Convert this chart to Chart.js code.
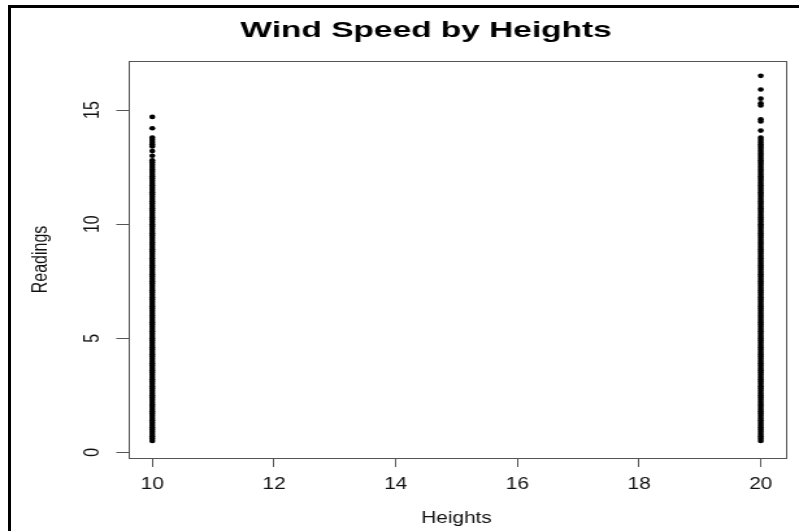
<!DOCTYPE html>
<html>
<head>
<meta charset="utf-8">
<title>Wind Speed by Heights</title>
<script src="https://cdn.jsdelivr.net/npm/chart.js@4.4.1/dist/chart.umd.min.js"></script>
<style>
  html, body { margin: 0; padding: 0; background: #fff; }
  #wrap { position: relative; width: 799px; height: 531px; overflow: hidden; }
  #windChart { position: absolute; left: 0; top: 0; }
  /* cropped screenshot frame: only top and left edges show */
  #frame { position: absolute; left: 8px; top: 5px; right: 0; bottom: 0;
           border-left: 3px solid #000; border-top: 3px solid #000; pointer-events: none; }
</style>
</head>
<body>
<div id="wrap">
  <!-- drawn at 615px wide and stretched to 799px, like the source image -->
  <canvas id="windChart" width="615" height="531" style="width:799px;height:531px"></canvas>
  <div id="frame"></div>
</div>
<script>
const chartTitle = "Wind Speed by Heights";
const xTitle = "Heights";
const yTitle = "Readings";

const heights = [10, 20];
const xTicks = [10, 12, 14, 16, 18, 20];
const yTicks = [0, 5, 10, 15];

// distinct readings seen at 10 m
const readingsAt10 = [
    0.5, 0.6, 0.7, 0.8, 0.9, 1.0, 1.1, 1.2, 1.3, 1.4,
    1.5, 1.6, 1.7, 1.8, 1.9, 2.0, 2.1, 2.2, 2.3, 2.4,
    2.5, 2.6, 2.7, 2.8, 2.9, 3.0, 3.1, 3.2, 3.3, 3.4,
    3.5, 3.6, 3.7, 3.8, 3.9, 4.0, 4.1, 4.2, 4.3, 4.4,
    4.5, 4.6, 4.7, 4.8, 4.9, 5.0, 5.1, 5.2, 5.3, 5.4,
    5.5, 5.6, 5.7, 5.8, 5.9, 6.0, 6.1, 6.2, 6.3, 6.4,
    6.5, 6.6, 6.7, 6.8, 6.9, 7.0, 7.1, 7.2, 7.3, 7.4,
    7.5, 7.6, 7.7, 7.8, 7.9, 8.0, 8.1, 8.2, 8.3, 8.4,
    8.5, 8.6, 8.7, 8.8, 8.9, 9.0, 9.1, 9.2, 9.3, 9.4,
    9.5, 9.6, 9.7, 9.8, 9.9, 10.0, 10.1, 10.2, 10.3, 10.4,
    10.5, 10.6, 10.7, 10.8, 10.9, 11.0, 11.1, 11.2, 11.3, 11.4,
    11.5, 11.6, 11.7, 11.8, 11.9, 12.0, 12.1, 12.2, 12.3, 12.4,
    12.5, 12.6, 12.7, 12.8,
    13.0, 13.2, 13.4, 13.5, 13.6, 13.7, 13.8, 14.2, 14.7
];

// distinct readings seen at 20 m
const readingsAt20 = [
    0.5, 0.6, 0.7, 0.8, 0.9, 1.0, 1.1, 1.2, 1.3, 1.4,
    1.5, 1.6, 1.7, 1.8, 1.9, 2.0, 2.1, 2.2, 2.3, 2.4,
    2.5, 2.6, 2.7, 2.8, 2.9, 3.0, 3.1, 3.2, 3.3, 3.4,
    3.5, 3.6, 3.7, 3.8, 3.9, 4.0, 4.1, 4.2, 4.3, 4.4,
    4.5, 4.6, 4.7, 4.8, 4.9, 5.0, 5.1, 5.2, 5.3, 5.4,
    5.5, 5.6, 5.7, 5.8, 5.9, 6.0, 6.1, 6.2, 6.3, 6.4,
    6.5, 6.6, 6.7, 6.8, 6.9, 7.0, 7.1, 7.2, 7.3, 7.4,
    7.5, 7.6, 7.7, 7.8, 7.9, 8.0, 8.1, 8.2, 8.3, 8.4,
    8.5, 8.6, 8.7, 8.8, 8.9, 9.0, 9.1, 9.2, 9.3, 9.4,
    9.5, 9.6, 9.7, 9.8, 9.9, 10.0, 10.1, 10.2, 10.3, 10.4,
    10.5, 10.6, 10.7, 10.8, 10.9, 11.0, 11.1, 11.2, 11.3, 11.4,
    11.5, 11.6, 11.7, 11.8, 11.9, 12.0, 12.1, 12.2, 12.3, 12.4,
    12.5, 12.6, 12.7, 12.8, 12.9, 13.0, 13.1, 13.2, 13.3, 13.4,
    13.5, 13.6, 13.7, 13.8,
    14.1, 14.5, 14.6, 15.2, 15.3, 15.5, 15.9, 16.5
];

const axisColor = "#555";
const textColor = "#111";
const labelFont = { family: "'Liberation Sans', Arial, sans-serif", size: 16 };

// R style box round the plot region
const plotBox = {
    id: "plotBox",
    afterDraw(chart) {
        const { ctx, chartArea } = chart;
        ctx.save();
        ctx.strokeStyle = axisColor;
        ctx.lineWidth = 1;
        ctx.strokeRect(Math.round(chartArea.left) + 0.5, Math.round(chartArea.top) + 0.5,
            Math.round(chartArea.right - chartArea.left), Math.round(chartArea.bottom - chartArea.top));
        ctx.restore();
    }
};

// main title sits left of the plot centre in the source, so draw it ourselves
const mainTitle = {
    id: "mainTitle",
    afterDraw(chart) {
        const ctx = chart.ctx;
        ctx.save();
        ctx.font = "bold 22px 'Liberation Sans', Arial, sans-serif";
        ctx.fillStyle = "#000";
        ctx.textAlign = "center";
        ctx.textBaseline = "alphabetic";
        ctx.translate(328, 37);
        ctx.scale(1.17, 1);
        ctx.fillText(chartTitle, 0, 0);
        ctx.restore();
    }
};

const points = [];
readingsAt10.forEach(v => points.push({ x: heights[0], y: v }));
readingsAt20.forEach(v => points.push({ x: heights[1], y: v }));

const gridOpts = { display: true, drawOnChartArea: false, drawTicks: true, tickLength: 9, color: axisColor, lineWidth: 1 };

new Chart(document.getElementById("windChart"), {
    type: "scatter",
    data: {
        datasets: [{
            label: yTitle,
            data: points,
            pointRadius: 2.3,
            pointBorderWidth: 0,
            pointBackgroundColor: "#000",
            borderColor: "#000"
        }]
    },
    options: {
        responsive: false,
        animation: false,
        devicePixelRatio: 1,
        layout: { padding: { top: 61, right: 10.7, bottom: 0, left: 0 } },
        plugins: {
            legend: { display: false },
            title: { display: false },
            tooltip: { enabled: false }
        },
        scales: {
            x: {
                type: "linear",
                min: 9.6,
                max: 20.4,
                afterFit(scale) { scale.height = 73; },
                afterBuildTicks(scale) { scale.ticks = xTicks.map(v => ({ value: v })); },
                grid: gridOpts,
                border: { display: false },
                ticks: { minRotation: 0, maxRotation: 0, padding: 8.4, font: labelFont, color: textColor },
                title: { display: true, text: xTitle, font: labelFont, color: textColor, padding: { top: 0, bottom: 2.6 } }
            },
            y: {
                type: "linear",
                min: -0.25,
                max: 17.15,
                afterFit(scale) { scale.width = 98.5; },
                afterBuildTicks(scale) { scale.ticks = yTicks.map(v => ({ value: v })); },
                grid: gridOpts,
                border: { display: false },
                ticks: { minRotation: 90, maxRotation: 90, crossAlign: "center", padding: 8.6, font: labelFont, color: textColor },
                title: { display: true, text: yTitle, font: labelFont, color: textColor, padding: { top: 22, bottom: 0 } }
            }
        }
    },
    plugins: [plotBox, mainTitle]
});
</script>
</body>
</html>
